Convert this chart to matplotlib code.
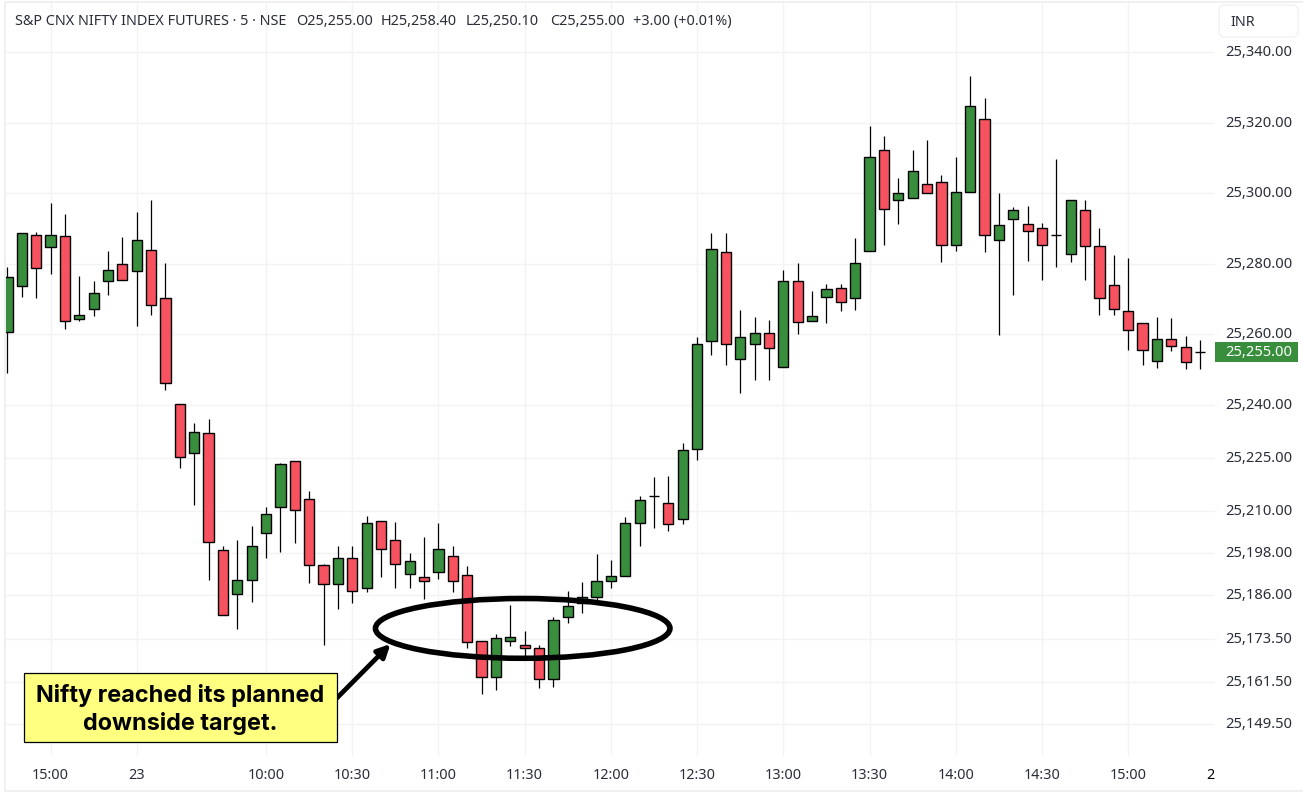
import matplotlib
matplotlib.use('Agg')
import matplotlib.pyplot as plt
from matplotlib.patches import Ellipse, FancyArrowPatch, FancyBboxPatch, Rectangle

opens = [25260.6, 25273.7, 25288.1, 25284.7, 25287.9, 25264.3, 25267.2, 25275.1, 25279.9, 25277.9, 25283.9, 25270.3,
         25240.2, 25226.3, 25232.0, 25198.8, 25186.3, 25190.3, 25203.6, 25211.0, 25224.0, 25213.2, 25194.5, 25189.1,
         25196.5, 25188.0, 25207.0, 25201.6, 25192.0, 25191.1, 25192.5, 25197.1, 25191.7, 25173.0, 25162.8, 25173.0,
         25171.8, 25171.0, 25162.2, 25179.8, 25183.7, 25185.4, 25190.0, 25191.4, 25206.4, 25214.1, 25212.1, 25207.6,
         25227.4, 25258.1, 25283.3, 25253.0, 25257.2, 25260.3, 25250.7, 25275.1, 25263.7, 25270.6, 25273.1, 25270.3,
         25283.6, 25312.3, 25298.1, 25298.6, 25302.6, 25303.2, 25285.3, 25300.3, 25321.0, 25286.7, 25292.7, 25291.3,
         25290.1, 25288.1, 25282.8, 25295.2, 25285.0, 25274.0, 25266.6, 25263.2, 25252.4, 25258.6, 25256.4, 25255.0]
highs = [25279.1, 25288.7, 25289.1, 25297.3, 25294.2, 25276.6, 25275.2, 25283.7, 25287.7, 25294.8, 25298.2, 25280.3,
         25240.2, 25234.9, 25236.0, 25200.0, 25201.7, 25205.7, 25211.1, 25223.5, 25224.0, 25215.6, 25194.9, 25200.0,
         25200.0, 25208.5, 25207.0, 25206.8, 25198.0, 25202.6, 25206.5, 25200.0, 25194.3, 25173.0, 25175.0, 25183.3,
         25175.9, 25171.9, 25179.9, 25187.2, 25189.8, 25197.7, 25196.0, 25208.1, 25214.2, 25219.6, 25219.9, 25229.1,
         25259.3, 25288.8, 25288.8, 25267.0, 25265.0, 25264.1, 25278.3, 25280.3, 25272.3, 25274.3, 25274.3, 25287.4,
         25319.1, 25316.3, 25304.4, 25312.3, 25315.2, 25305.2, 25310.4, 25333.3, 25327.1, 25300.1, 25296.2, 25296.5,
         25291.6, 25309.8, 25298.1, 25298.2, 25290.2, 25282.6, 25281.7, 25263.2, 25264.9, 25264.6, 25259.5, 25258.4]
lows = [25249.0, 25270.7, 25270.4, 25277.2, 25261.4, 25263.9, 25265.3, 25271.3, 25275.4, 25262.5, 25265.6, 25244.3,
        25222.2, 25211.7, 25190.2, 25180.3, 25176.5, 25184.2, 25196.7, 25198.4, 25200.7, 25189.6, 25172.0, 25182.2,
        25183.9, 25186.8, 25191.3, 25188.2, 25188.2, 25185.0, 25190.7, 25186.8, 25171.1, 25158.1, 25159.0, 25171.7,
        25167.7, 25159.8, 25160.1, 25178.2, 25181.1, 25184.7, 25188.2, 25191.4, 25200.1, 25205.2, 25204.3, 25206.3,
        25224.5, 25254.3, 25251.4, 25243.5, 25247.2, 25247.2, 25250.7, 25260.2, 25263.7, 25263.3, 25266.5, 25267.0,
        25283.6, 25285.5, 25291.2, 25298.6, 25300.1, 25280.4, 25283.8, 25300.3, 25283.5, 25259.9, 25271.3, 25280.9,
        25275.3, 25279.2, 25280.4, 25275.3, 25265.4, 25265.4, 25255.7, 25251.4, 25250.6, 25255.4, 25250.3, 25250.1]
closes = [25276.4, 25288.7, 25278.8, 25288.1, 25263.7, 25265.4, 25271.7, 25278.2, 25275.4, 25286.7, 25268.3, 25246.2,
          25225.2, 25232.3, 25201.0, 25180.3, 25190.3, 25199.9, 25209.0, 25223.2, 25210.1, 25194.5, 25189.1, 25196.5,
          25187.1, 25206.4, 25199.1, 25194.8, 25195.7, 25190.0, 25199.1, 25190.0, 25172.7, 25162.8, 25173.8, 25174.1,
          25171.0, 25162.2, 25178.9, 25182.9, 25185.4, 25190.0, 25191.4, 25206.4, 25213.0, 25214.1, 25206.2, 25227.2,
          25257.2, 25284.2, 25257.2, 25259.2, 25260.3, 25256.1, 25275.1, 25263.5, 25265.2, 25272.8, 25269.1, 25280.2,
          25310.3, 25295.5, 25300.1, 25306.3, 25300.1, 25285.3, 25300.3, 25324.7, 25288.1, 25291.0, 25295.2, 25289.3,
          25285.3, 25288.1, 25298.1, 25285.0, 25270.3, 25267.2, 25261.2, 25255.5, 25258.6, 25256.7, 25252.1, 25255.0]

price_ticks = [25340, 25320, 25300, 25280, 25260, 25240, 25225, 25210, 25198, 25186, 25173.5, 25161.5, 25149.5]
time_ticks = [3, 9, 18, 24, 30, 36, 42, 48, 54, 60, 66, 72, 78]
time_labels = ['15:00', '23', '10:00', '10:30', '11:00', '11:30', '12:00', '12:30', '13:00', '13:30', '14:00', '14:30', '15:00']
header_parts = ['S&P CNX NIFTY INDEX FUTURES · 5 · NSE', 'O25,255.00', 'H25,258.40', 'L25,250.10', 'C25,255.00', '+3.00 (+0.01%)']
header_x = [15, 296, 381, 466, 550, 633]
last_price = closes[-1]

GREEN = '#388e3c'
RED = '#f7525f'
GRID = '#f3f3f3'
TEXT = '#2a2e39'
FONT = 'Noto Sans'

W, H = 1303, 793
fig = plt.figure(figsize=(W / 100, H / 100), dpi=100, facecolor='white')

# price pane, pixel box 5..1215 x 2..756
ax = fig.add_axes([5 / W, 1 - 756 / H, 1210 / W, 754 / H])
ax.set_xlim(-0.167, 84.04)
ax.set_ylim(25140.4, 25354.3)
for s in ax.spines.values():
    s.set_visible(False)
ax.set_yticks(price_ticks)
ax.set_xticks(time_ticks)
ax.set_xticklabels([])
ax.set_yticklabels([])
ax.tick_params(length=0)
ax.grid(True, color=GRID, linewidth=1.0)
ax.set_axisbelow(True)

xs = list(range(len(opens)))
colors = [GREEN if c >= o else RED for o, c in zip(opens, closes)]
ax.vlines(xs, lows, highs, color='black', linewidth=0.9, zorder=2)
ax.bar(xs, [abs(c - o) for o, c in zip(opens, closes)], bottom=[min(o, c) for o, c in zip(opens, closes)],
       width=0.71, color=colors, edgecolor='black', linewidth=1.0, zorder=3)

for p in price_ticks:
    ax.annotate(f'{p:,.2f}', (1, p), xycoords=('axes fraction', 'data'), xytext=(7.2, -0.3), textcoords='offset points',
                va='center', ha='left', fontsize=10.6, color=TEXT, family=FONT, annotation_clip=False)
for t, lab in zip(time_ticks, time_labels):
    ax.annotate(lab, (t, 0), xycoords=('data', 'axes fraction'), xytext=(0, -14), textcoords='offset points',
                va='center', ha='center', fontsize=10.4, color=TEXT, family=FONT,
                fontweight='bold' if lab == '23' else 'normal', annotation_clip=False)
ax.annotate('2', (83.7, 0), xycoords=('data', 'axes fraction'), xytext=(0, -14), textcoords='offset points',
            va='center', ha='center', fontsize=10.4, color='black', family=FONT, fontweight='bold', annotation_clip=False)

# overlay in pixel coordinates for the hand drawn notes
ov = fig.add_axes([0, 0, 1, 1], facecolor='none')
ov.set_xlim(0, W)
ov.set_ylim(H, 0)
ov.axis('off')

ov.add_patch(Rectangle((5, 1.5), 1310, 789, fc='none', ec='#f0f0f0', lw=1.4))

for part, px in zip(header_parts, header_x):
    ov.text(px, 21.5, part, fontsize=10.4, color=TEXT, family=FONT, va='center', ha='left')

ov.add_patch(FancyBboxPatch((1219, 5), 79, 32, boxstyle='round,pad=0,rounding_size=6', fc='white', ec='#eeeeee', lw=0.8))
ov.text(1230, 22.5, 'INR', fontsize=10.4, color=TEXT, family=FONT, va='center', ha='left')

# last price tag
y_last = H - ax.transData.transform((0, last_price))[1]
ov.add_patch(Rectangle((1215, y_last - 10), 83, 20, fc=GREEN, ec='none'))
ov.text(1258.5, y_last + 0.5, f'{last_price:,.2f}', fontsize=10.6, color='white', family=FONT, va='center', ha='center')

ov.add_patch(Ellipse((522.7, 628.4), 294.5, 59.8, fc='none', ec='black', lw=4.0))
ov.add_patch(FancyArrowPatch((330, 705), (390.5, 644), arrowstyle='-|>', mutation_scale=19, color='black', lw=3.4,
                             shrinkA=0, shrinkB=0))
ov.add_patch(Rectangle((23.5, 672.5), 313, 69.5, fc='#ffff80', ec='black', lw=0.9))
ov.text(180.5, 695.5, 'Nifty reached its planned', fontsize=16.9, fontweight='bold', family='Inter', color='black',
        va='center', ha='center')
ov.text(180.5, 723.5, 'downside target.', fontsize=16.9, fontweight='bold', family='Inter', color='black',
        va='center', ha='center')

fig.savefig('out.png', dpi=100, facecolor='white')
